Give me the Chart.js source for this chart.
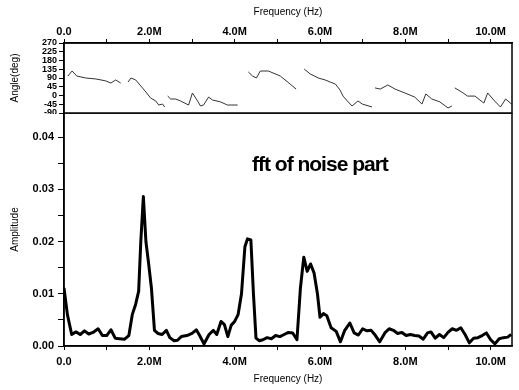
<!DOCTYPE html>
<html>
<head>
<meta charset="utf-8">
<script src="https://cdn.jsdelivr.net/npm/chart.js@4.4.0/dist/chart.umd.min.js"></script>
<style>
  body { margin: 0; background: #fff; width: 519px; height: 390px; overflow: hidden; position: relative; }
  #phaseChart { position: absolute; left: 0; top: 0; }
  #ampChart { position: absolute; left: 0; top: 113px; }
  #note { position: absolute; left: 252px; top: 152px; font: bold 21px 'Liberation Sans', Arial, sans-serif; letter-spacing: -1px; color: #000; }
</style>
</head>
<body>
<canvas id="phaseChart" width="519" height="114"></canvas>
<canvas id="ampChart" width="519" height="277"></canvas>
<div id="note">fft of noise part</div>
<script>
// frequency in MHz, amplitude (a.u.)
const ampFreq = [0.00, 0.08, 0.18, 0.28, 0.38, 0.48, 0.58, 0.68, 0.80, 0.90, 1.00, 1.10, 1.20, 1.30, 1.42, 1.52, 1.60, 1.68, 1.75, 1.80,
  1.86, 1.92, 1.98, 2.05, 2.12, 2.20, 2.30, 2.40, 2.48, 2.58, 2.66, 2.75, 2.88, 3.00, 3.10, 3.18, 3.28, 3.40, 3.50, 3.58,
  3.68, 3.76, 3.84, 3.92, 4.00, 4.08, 4.16, 4.24, 4.30, 4.38, 4.44, 4.50, 4.58, 4.66, 4.76, 4.86, 4.96, 5.06, 5.16, 5.26,
  5.36, 5.46, 5.54, 5.62, 5.70, 5.78, 5.86, 5.94, 6.00, 6.08, 6.16, 6.26, 6.38, 6.48, 6.58, 6.70, 6.80, 6.90, 7.00, 7.10,
  7.20, 7.30, 7.40, 7.52, 7.62, 7.72, 7.82, 7.92, 8.02, 8.12, 8.22, 8.32, 8.42, 8.52, 8.60, 8.70, 8.80, 8.90, 9.00, 9.10,
  9.20, 9.30, 9.40, 9.50, 9.60, 9.70, 9.80, 9.90, 10.00, 10.10, 10.20, 10.30, 10.40, 10.48];
const ampValues = [0.0111, 0.0060, 0.0022, 0.0027, 0.0022, 0.0029, 0.0023, 0.0026, 0.0033, 0.0020, 0.0020, 0.0031, 0.0015, 0.0014, 0.0013, 0.0020, 0.0060, 0.0080, 0.0105, 0.0200,
  0.0286, 0.0200, 0.0160, 0.0110, 0.0030, 0.0024, 0.0022, 0.0030, 0.0016, 0.0010, 0.0011, 0.0018, 0.0020, 0.0024, 0.0031, 0.0020, 0.0004, 0.0022, 0.0030, 0.0022,
  0.0047, 0.0041, 0.0018, 0.0040, 0.0047, 0.0060, 0.0100, 0.0190, 0.0205, 0.0203, 0.0100, 0.0015, 0.0010, 0.0012, 0.0016, 0.0014, 0.0020, 0.0018, 0.0022, 0.0026,
  0.0025, 0.0012, 0.0110, 0.0170, 0.0143, 0.0157, 0.0140, 0.0100, 0.0055, 0.0062, 0.0058, 0.0035, 0.0028, 0.0008, 0.0030, 0.0044, 0.0025, 0.0021, 0.0033, 0.0029,
  0.0030, 0.0020, 0.0008, 0.0025, 0.0033, 0.0030, 0.0024, 0.0026, 0.0020, 0.0022, 0.0020, 0.0019, 0.0013, 0.0025, 0.0027, 0.0015, 0.0022, 0.0016, 0.0026, 0.0033,
  0.0030, 0.0035, 0.0022, 0.0006, 0.0015, 0.0016, 0.0020, 0.0025, 0.0012, 0.0004, 0.0014, 0.0016, 0.0017, 0.0022];

// phase in degrees, null = gap (wrap)
const phaseFreq = [0.09, 0.19, 0.30, 0.51, 0.75, 0.98, 1.10, 1.21, 1.33, 1.45,
  1.50, 1.57, 1.68, 1.80, 1.92, 2.03, 2.15, 2.22, 2.31, 2.36, 2.40,
  2.43, 2.50, 2.62, 2.73, 2.92, 3.01, 3.13, 3.20, 3.27, 3.39, 3.48, 3.67, 3.83, 4.07, 4.15,
  4.32, 4.42, 4.51, 4.60, 4.79, 5.07, 5.30, 5.44, 5.55,
  5.63, 5.77, 5.96, 6.12, 6.24, 6.36, 6.47, 6.54, 6.64, 6.75, 6.89, 6.99, 7.22, 7.28,
  7.29, 7.41, 7.59, 7.76, 7.99, 8.22, 8.39, 8.48, 8.62, 8.81, 9.00, 9.09, 9.15,
  9.16, 9.32, 9.46, 9.63, 9.84, 9.93, 10.07, 10.23, 10.35, 10.49];
const phaseValues = [100, 126, 100, 90, 85, 75, 64, 80, 64, null,
  69, 90, 80, 49, 18, -13, -28, -49, -44, -59, null,
  -3, -18, -18, -28, -49, 13, -28, -54, -49, -8, -23, -33, -49, -49, null,
  121, 100, 90, 126, 126, 100, 59, 33, null,
  136, 111, 90, 80, 69, 59, 28, -3, -28, -54, -28, -44, -59, null,
  39, 33, 54, 33, 13, -8, -44, 8, -18, -33, -64, -54, null,
  39, 18, -3, -3, -39, 13, -23, -59, -18, -44];

const freqTicks = [0, 1, 2, 3, 4, 5, 6, 7, 8, 9, 10];
const phaseTicks = [-90, -45, 0, 45, 90, 135, 180, 225, 270];
const ampTicks = [0, 0.005, 0.01, 0.015, 0.02, 0.025, 0.03, 0.035, 0.04];

const freqMax = 10.5;
const labelFont = { family: "'Liberation Sans', Arial, sans-serif", size: 11, weight: 'bold' };
const titleFont = { family: "'Liberation Sans', Arial, sans-serif", size: 10 };

const framePlugin = {
  id: 'frame',
  afterDraw(chart) {
    const { ctx, chartArea } = chart;
    ctx.save();
    ctx.strokeStyle = '#000';
    ctx.lineWidth = 1.5;
    ctx.strokeRect(chartArea.left, chartArea.top, chartArea.right - chartArea.left, chartArea.bottom - chartArea.top);
    ctx.restore();
  },
};

function freqLabel(v) {
  if (v % 2 !== 0) return '';
  return v === 0 ? '0.0' : v.toFixed(1) + 'M';
}

// fixed axis sizes so both panels share the same plot box
function fixX(h) {
  return (axis) => { axis.height = h; axis.paddingLeft = 0; axis.paddingRight = 0; };
}
function fixY(w) {
  return (axis) => { axis.width = w; axis.paddingTop = 0; axis.paddingBottom = 0; };
}
function useTicks(list) {
  return (axis) => { axis.ticks = list.map((v) => ({ value: v })); };
}

new Chart(document.getElementById('phaseChart'), {
  type: 'line',
  data: {
    datasets: [{
      data: phaseFreq.map((f, i) => ({ x: f, y: phaseValues[i] })),
      borderColor: '#333',
      borderWidth: 1,
      pointRadius: 0,
      spanGaps: false,
      tension: 0,
    }],
  },
  options: {
    responsive: false,
    animation: false,
    layout: { padding: { left: 0, right: 7, top: 0, bottom: 1 } },
    plugins: { legend: { display: false }, tooltip: { enabled: false } },
    scales: {
      x: {
        type: 'linear', position: 'top', min: 0, max: freqMax,
        afterBuildTicks: useTicks(freqTicks),
        afterFit: fixX(43),
        ticks: { autoSkip: false, maxRotation: 0, color: '#000', font: labelFont, padding: 0, callback: freqLabel },
        grid: { drawOnChartArea: false, tickLength: 4, color: '#000' },
        border: { color: '#000', width: 1.5 },
        title: { display: true, text: 'Frequency (Hz)', color: '#000', font: titleFont, padding: { top: 6, bottom: 0 } },
      },
      y: {
        min: -90, max: 270,
        afterBuildTicks: useTicks(phaseTicks),
        afterFit: fixY(64),
        ticks: { autoSkip: false, color: '#000', font: { ...labelFont, size: 9 }, padding: 2 },
        grid: { drawOnChartArea: false, tickLength: 5, color: '#000' },
        border: { color: '#000', width: 1.5 },
        title: { display: true, text: 'Angle(deg)', color: '#000', font: titleFont, padding: { top: 9, bottom: 0 } },
      },
    },
  },
  plugins: [framePlugin],
});

new Chart(document.getElementById('ampChart'), {
  type: 'line',
  data: {
    datasets: [{
      data: ampFreq.map((f, i) => ({ x: f, y: ampValues[i] })),
      borderColor: '#000',
      borderWidth: 3,
      pointRadius: 0,
      tension: 0,
      borderJoinStyle: 'round',
    }],
  },
  options: {
    responsive: false,
    animation: false,
    layout: { padding: { left: 0, right: 7, top: 0, bottom: 0 } },
    plugins: { legend: { display: false }, tooltip: { enabled: false } },
    scales: {
      x: {
        type: 'linear', min: 0, max: freqMax,
        afterBuildTicks: useTicks(freqTicks),
        afterFit: fixX(44),
        ticks: { autoSkip: false, maxRotation: 0, color: '#000', font: labelFont, padding: 5, callback: freqLabel },
        grid: { drawOnChartArea: false, tickLength: 4, color: '#000' },
        border: { color: '#000', width: 1.5 },
        title: { display: true, text: 'Frequency (Hz)', color: '#000', font: titleFont, padding: { top: 2, bottom: 5 } },
      },
      y: {
        min: 0, max: 0.0446,
        afterBuildTicks: useTicks(ampTicks),
        afterFit: fixY(64),
        ticks: {
          autoSkip: false, color: '#000', font: labelFont, padding: 4,
          callback: (v) => Math.abs(v * 100 - Math.round(v * 100)) < 1e-6 ? v.toFixed(2) : '',
        },
        grid: { drawOnChartArea: false, tickLength: 6, color: '#000' },
        border: { color: '#000', width: 1.5 },
        title: { display: true, text: 'Amplitude', color: '#000', font: titleFont, padding: { top: 9, bottom: 0 } },
      },
    },
  },
  plugins: [framePlugin],
});
</script>
</body>
</html>
